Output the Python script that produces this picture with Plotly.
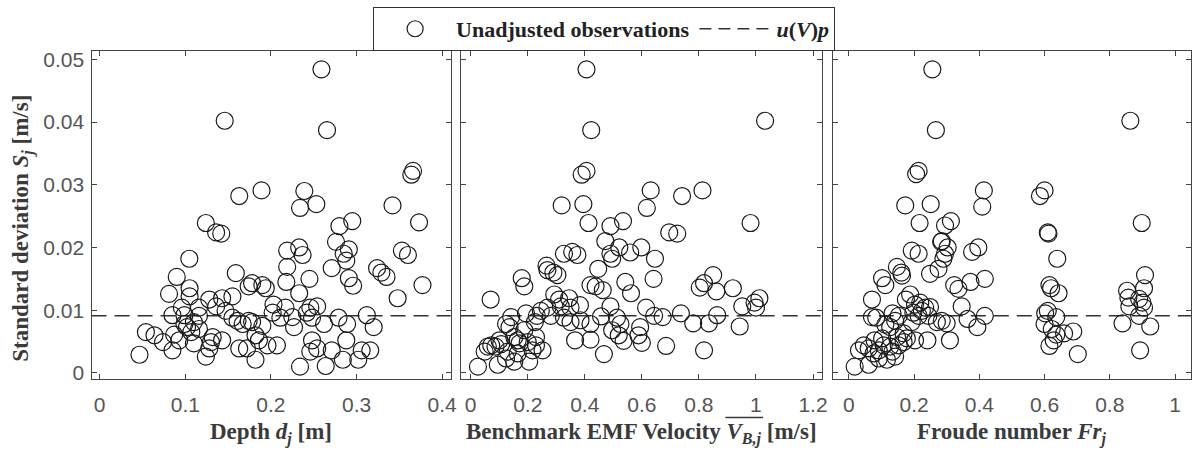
import plotly.graph_objects as go

# Standard deviation S_j of each observation against three explanatory variables
depth = [0.259, 0.146, 0.2655, 0.366, 0.364, 0.189, 0.163, 0.239, 0.234, 0.253, 0.342, 0.124, 0.136, 0.142, 0.280, 0.295, 0.373,
         0.1047, 0.090, 0.081, 0.105, 0.105, 0.159, 0.174, 0.178, 0.19, 0.194, 0.219, 0.233, 0.237, 0.219, 0.218, 0.233, 0.245,
         0.276, 0.291, 0.285, 0.288, 0.271, 0.291, 0.296, 0.353, 0.36, 0.324, 0.329, 0.335, 0.348, 0.377,
         0.128, 0.143, 0.136, 0.155, 0.147, 0.096, 0.099, 0.085, 0.116, 0.116, 0.11, 0.102, 0.116, 0.155, 0.161, 0.167, 0.174,
         0.178, 0.19, 0.182, 0.186, 0.163, 0.172, 0.182, 0.196, 0.207, 0.203, 0.202, 0.211, 0.217, 0.225, 0.227, 0.242, 0.246,
         0.254, 0.248, 0.262, 0.248, 0.246, 0.254, 0.234, 0.264, 0.271, 0.279, 0.289, 0.288, 0.284, 0.302, 0.312, 0.32, 0.306,
         0.316, 0.0465, 0.054, 0.064, 0.074, 0.085, 0.087, 0.093, 0.11, 0.124, 0.128, 0.13, 0.132, 0.143, 0.099, 0.107]
s_depth = [0.0484, 0.0402, 0.0387, 0.0322, 0.0316, 0.0291, 0.0282, 0.029, 0.0263, 0.0269, 0.0267, 0.0239, 0.0224, 0.0222, 0.0234, 0.0242, 0.024,
           0.0182, 0.0153, 0.0126, 0.0135, 0.0122, 0.0159, 0.0138, 0.0143, 0.014, 0.0135, 0.0195, 0.02, 0.0188, 0.0169, 0.0145, 0.0127, 0.015,
           0.0209, 0.0197, 0.019, 0.0179, 0.0167, 0.0151, 0.0139, 0.0195, 0.0188, 0.0167, 0.016, 0.0153, 0.0119, 0.014,
           0.0117, 0.0119, 0.0106, 0.0122, 0.0099, 0.0104, 0.0092, 0.0092, 0.0104, 0.0091, 0.0081, 0.0073, 0.007, 0.0088, 0.0083, 0.0078, 0.0083,
           0.0081, 0.0075, 0.006, 0.0052, 0.0039, 0.0039, 0.0021, 0.0044, 0.0044, 0.0109, 0.0096, 0.0088, 0.0104, 0.0089, 0.0073, 0.0096, 0.0104,
           0.0106, 0.0088, 0.0078, 0.0052, 0.0034, 0.0039, 0.001, 0.0011, 0.0036, 0.0088, 0.0078, 0.0052, 0.0021, 0.0021, 0.0092, 0.0073, 0.0036,
           0.0036, 0.0029, 0.0065, 0.006, 0.0049, 0.0036, 0.0061, 0.0052, 0.0047, 0.0026, 0.0039, 0.0049, 0.0057, 0.0052, 0.0078, 0.0065]

velocity = [0.406, 1.032, 0.4225, 0.406, 0.389, 0.631, 0.741, 0.8125, 0.6175, 0.319, 0.395, 0.413, 0.49, 0.534, 0.696, 0.724, 0.981, 0.472,
            0.521, 0.49, 0.496, 0.559, 0.598, 0.646, 0.327, 0.356, 0.374, 0.266, 0.269, 0.29, 0.304, 0.179, 0.188, 0.07, 0.447, 0.42,
            0.438, 0.463, 0.542, 0.562, 0.641, 0.49, 0.615, 0.643, 0.673, 0.737, 0.78, 0.835, 0.864, 0.803, 0.818, 0.85, 0.861, 0.919,
            0.952, 0.995, 1.012, 1.0, 0.943, 0.818, 0.685, 0.467, 0.594, 0.588, 0.6, 0.536, 0.519, 0.496, 0.513, 0.525, 0.42, 0.366,
            0.42, 0.385, 0.383, 0.35, 0.345, 0.316, 0.293, 0.31, 0.281, 0.327, 0.35, 0.269, 0.246, 0.232, 0.225, 0.194, 0.142, 0.124,
            0.136, 0.101, 0.107, 0.072, 0.06, 0.049, 0.0255, 0.095, 0.124, 0.153, 0.205, 0.171, 0.2, 0.229, 0.252, 0.217, 0.165, 0.229,
            0.188, 0.153, 0.087, 0.13, 0.165, 0.457]
s_velocity = [0.0484, 0.0402, 0.0387, 0.0322, 0.0316, 0.0291, 0.0282, 0.0291, 0.0263, 0.0267, 0.0269, 0.0239, 0.0234, 0.0242, 0.0224, 0.0222, 0.0239, 0.021,
              0.02, 0.019, 0.0182, 0.0192, 0.02, 0.0182, 0.019, 0.0193, 0.0188, 0.0171, 0.0164, 0.016, 0.0156, 0.0151, 0.0138, 0.0117, 0.0166, 0.014,
              0.0138, 0.0132, 0.0145, 0.0127, 0.015, 0.0106, 0.0104, 0.0091, 0.0089, 0.0095, 0.0079, 0.0079, 0.0092, 0.0136, 0.0143, 0.0156, 0.013, 0.0135,
              0.0106, 0.0112, 0.0119, 0.0104, 0.0074, 0.0036, 0.0043, 0.003, 0.0073, 0.006, 0.0048, 0.0051, 0.006, 0.0068, 0.0088, 0.0078, 0.0053, 0.0052,
              0.0078, 0.0084, 0.0108, 0.0104, 0.0119, 0.0106, 0.0125, 0.0117, 0.0091, 0.0088, 0.0081, 0.0104, 0.0099, 0.0091, 0.0081, 0.0095, 0.0089, 0.0078,
              0.0073, 0.0052, 0.0046, 0.0044, 0.0042, 0.0034, 0.001, 0.0013, 0.0023, 0.0018, 0.0018, 0.0047, 0.0049, 0.0044, 0.0036, 0.0036, 0.0031, 0.0057,
              0.0068, 0.0057, 0.0042, 0.0034, 0.0052, 0.009]

froude = [0.256, 0.863, 0.267, 0.214, 0.2065, 0.414, 0.60, 0.586, 0.409, 0.173, 0.251, 0.217, 0.295, 0.313, 0.61, 0.612, 0.898, 0.285,
          0.397, 0.378, 0.283, 0.303, 0.295, 0.29, 0.193, 0.214, 0.639, 0.249, 0.275, 0.1475, 0.161, 0.163, 0.102, 0.112, 0.071, 0.323,
          0.336, 0.373, 0.417, 0.346, 0.364, 0.394, 0.417, 0.615, 0.62, 0.643, 0.61, 0.602, 0.636, 0.60, 0.622, 0.636, 0.628, 0.615,
          0.66, 0.688, 0.702, 0.853, 0.857, 0.86, 0.89, 0.905, 0.908, 0.9, 0.905, 0.89, 0.839, 0.924, 0.893, 0.071, 0.084, 0.134,
          0.112, 0.127, 0.153, 0.175, 0.188, 0.203, 0.198, 0.219, 0.234, 0.249, 0.224, 0.244, 0.27, 0.285, 0.3, 0.31, 0.241, 0.203,
          0.168, 0.148, 0.102, 0.079, 0.046, 0.031, 0.061, 0.076, 0.092, 0.117, 0.142, 0.018, 0.061, 0.127, 0.153, 0.168, 0.107,
          0.134, 0.092, 0.178, 0.142, 0.193, 0.214]
s_froude = [0.0484, 0.0402, 0.0387, 0.0322, 0.0317, 0.0291, 0.0291, 0.0282, 0.0265, 0.0267, 0.0269, 0.0239, 0.0235, 0.0242, 0.0224, 0.0222, 0.0239, 0.021,
            0.02, 0.0193, 0.0209, 0.02, 0.019, 0.0182, 0.0195, 0.019, 0.0182, 0.0158, 0.0166, 0.0169, 0.016, 0.0155, 0.0151, 0.014, 0.0117, 0.014,
            0.0134, 0.0145, 0.015, 0.0106, 0.0086, 0.0073, 0.0091, 0.014, 0.0135, 0.0127, 0.0099, 0.0095, 0.0089, 0.0078, 0.007, 0.0061, 0.0052, 0.0043,
            0.0063, 0.0066, 0.003, 0.0131, 0.012, 0.0106, 0.0118, 0.0135, 0.0156, 0.0112, 0.0104, 0.0091, 0.0079, 0.0074, 0.0036, 0.0089, 0.0088, 0.0095,
            0.0077, 0.0073, 0.0091, 0.0117, 0.0125, 0.0109, 0.0096, 0.0112, 0.0104, 0.0105, 0.0099, 0.0091, 0.0081, 0.0083, 0.0079, 0.0052, 0.0052, 0.0052,
            0.0063, 0.0057, 0.0055, 0.0052, 0.0044, 0.0036, 0.0039, 0.0031, 0.0023, 0.0021, 0.0026, 0.001, 0.0013, 0.0042, 0.0044, 0.0049, 0.0044,
            0.0034, 0.0036, 0.0055, 0.0083, 0.0081, 0.0091]

# Reference uncertainty level u(V)p
u_vp = 0.0091

y_ticks = [0, 0.01, 0.02, 0.03, 0.04, 0.05]
y_tick_text = ["0", "0.01", "0.02", "0.03", "0.04", "0.05"]
depth_ticks = [0, 0.1, 0.2, 0.3, 0.4]
depth_tick_text = ["0", "0.1", "0.2", "0.3", "0.4"]
velocity_ticks = [0, 0.2, 0.4, 0.6, 0.8, 1.0, 1.2]
velocity_tick_text = ["0", "0.2", "0.4", "0.6", "0.8", "1", "1.2"]
froude_ticks = [0, 0.2, 0.4, 0.6, 0.8, 1.0]
froude_tick_text = ["0", "0.2", "0.4", "0.6", "0.8", "1"]

W, H = 1199, 450
INK = "#1a1a1a"
FRAME = "#444444"
LABEL_INK = "#3a3a3a"
SERIF = "Liberation Serif, Times New Roman, serif"
TICK_FONT = dict(family="Liberation Sans, Arial, sans-serif", size=21, color="#555555")
LABEL_FONT = dict(family=SERIF, size=23, color=LABEL_INK)

panels = [
    dict(x=depth, y=s_depth, ax="", dom=(92, 453), rng=(-0.0095, 0.41), tv=depth_ticks, tt=depth_tick_text),
    dict(x=velocity, y=s_velocity, ax="2", dom=(463, 826), rng=(-0.035, 1.231), tv=velocity_ticks, tt=velocity_tick_text),
    dict(x=froude, y=s_froude, ax="3", dom=(837, 1197), rng=(-0.049, 1.049), tv=froude_ticks, tt=froude_tick_text),
]
y_top, y_bot = 49, 383
x_title_y = 438

fig = go.Figure()
layout = dict(
    width=W, height=H, margin=dict(l=0, r=0, t=0, b=0),
    paper_bgcolor="white", plot_bgcolor="white", showlegend=True,
)

for i, p in enumerate(panels):
    xa, ya = "x" + p["ax"], "y" + p["ax"]
    fig.add_trace(go.Scatter(
        x=p["x"], y=p["y"], xaxis=xa, yaxis=ya, mode="markers",
        name="<b>Unadjusted observations</b>", showlegend=(i == 0),
        marker=dict(symbol="circle-open", size=17, color=INK, line=dict(width=1.2, color=INK)),
        hoverinfo="x+y",
    ))
    common = dict(showgrid=False, zeroline=False, showline=True, linecolor=FRAME, linewidth=1.2,
                  mirror="ticks", ticks="inside", ticklen=5, tickwidth=1, tickcolor=FRAME,
                  tickfont=TICK_FONT)
    layout["xaxis" + p["ax"]] = dict(
        common, domain=[p["dom"][0] / W, p["dom"][1] / W], range=list(p["rng"]),
        tickmode="array", tickvals=p["tv"], ticktext=p["tt"], anchor=ya,
        ticklabelstandoff=7,
    )
    layout["yaxis" + p["ax"]] = dict(
        common, domain=[1 - y_bot / H, 1 - y_top / H], range=[-0.001, 0.0513],
        tickmode="array", tickvals=y_ticks, ticktext=y_tick_text, anchor=xa,
        showticklabels=(i == 0), ticklabelstandoff=2,
    )

# Dashed u(V)p reference line across every panel
shapes = []
for p in panels:
    shapes.append(dict(type="line", xref="x" + p["ax"] + " domain", yref="y" + p["ax"],
                       x0=0, x1=1, y0=u_vp, y1=u_vp, layer="below",
                       line=dict(color="#333333", width=1.5, dash="15px,8px")))
# Mean bar over V_{B,j} in the middle axis title
shapes.append(dict(type="line", xref="paper", yref="paper",
                   x0=729 / W, x1=767 / W, y0=1 - 422 / H, y1=1 - 422 / H,
                   line=dict(color=LABEL_INK, width=1.3)))
layout["shapes"] = shapes

# Legend-only entry for the dashed line
fig.add_trace(go.Scatter(
    x=[None], y=[None], mode="lines", name="<b><i>u</i>(<i>V</i>)<i>p</i></b>",
    line=dict(color="#333333", width=1.5, dash="12px,7px"),
))

layout["legend"] = dict(
    orientation="h", x=375 / W, y=1 - 4 / H, xanchor="left", yanchor="top",
    bgcolor="white", bordercolor="#333333", borderwidth=1,
    font=dict(family=SERIF, size=22, color="#222222"),
    itemwidth=72, tracegroupgap=0,
)

# Axis titles
layout["annotations"] = [
    dict(text="<b>Depth <i>d<sub>j</sub></i> [m]</b>", xref="paper", yref="paper",
         x=((92 + 453) / 2) / W, y=1 - x_title_y / H, showarrow=False, font=LABEL_FONT,
         xanchor="center", yanchor="middle"),
    dict(text="<b>Benchmark EMF Velocity <i>V<sub>B,j</sub></i> [m/s]</b>",
         xref="paper", yref="paper",
         x=((463 + 826) / 2) / W, y=1 - x_title_y / H, showarrow=False, font=LABEL_FONT,
         xanchor="center", yanchor="middle"),
    dict(text="<b>Froude number <i>Fr<sub>j</sub></i></b>", xref="paper", yref="paper",
         x=((837 + 1197) / 2) / W, y=1 - x_title_y / H, showarrow=False, font=LABEL_FONT,
         xanchor="center", yanchor="middle"),
    dict(text="<b>Standard deviation <i>S<sub>j</sub></i> [m/s]</b>", xref="paper", yref="paper",
         x=23 / W, y=1 - 229 / H, showarrow=False, font=LABEL_FONT, textangle=-90,
         xanchor="center", yanchor="middle"),
]

fig.update_layout(**layout)
fig.write_html("out.html")
